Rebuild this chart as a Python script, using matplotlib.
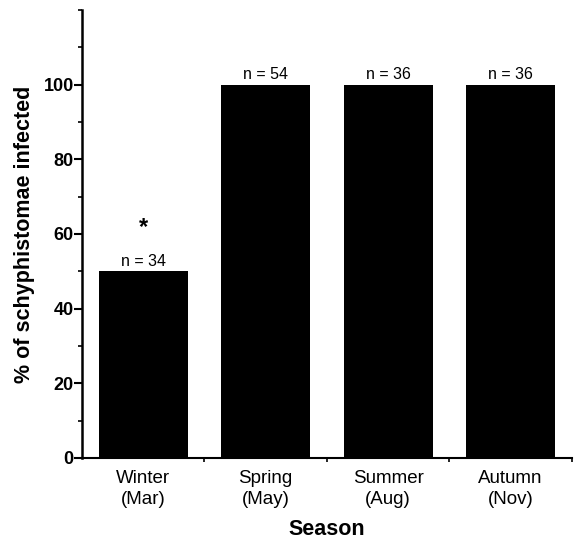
import numpy as np
import matplotlib.pyplot as plt

plt.rcParams['font.family'] = ['Liberation Sans', 'DejaVu Sans']

# Daten
musim = ['Winter\n(Mar)', 'Spring\n(May)', 'Summer\n(Aug)', 'Autumn\n(Nov)']
persen_terinfeksi = [50, 100, 100, 100]
jumlah_sampel = [34, 54, 36, 36]

fig = plt.figure(figsize=(5.75, 5.4), dpi=100)
ax = fig.add_axes([0.1426, 0.152, 0.852, 0.8296])

x = np.arange(len(musim))
ax.bar(x, persen_terinfeksi, width=0.725, color='black')

for xi, nilai, n in zip(x, persen_terinfeksi, jumlah_sampel):
    ax.text(xi, nilai + 1.4, f'n = {n}', ha='center', va='baseline', fontsize=11.5)

# tanda signifikan
ax.text(x[0], 60, '*', ha='center', va='baseline', fontsize=17, fontweight='bold')

ax.set_xlim(-0.5, 3.5)
ax.set_ylim(0, 120)
ax.set_xticks(x + 0.5)
ax.set_xticklabels([])
ax.set_xticks(x, minor=True)
ax.set_xticklabels(musim, minor=True, fontsize=13.5, linespacing=1.25)
ax.tick_params(axis='x', which='minor', length=0, pad=9)
ax.tick_params(axis='x', which='major', length=3, width=1.2, direction='out')

ax.set_yticks([0, 20, 40, 60, 80, 100])
ax.set_yticks(np.arange(10, 121, 10), minor=True)
ax.tick_params(axis='y', which='major', length=6, width=1.5, labelsize=13, pad=0)
ax.tick_params(axis='y', which='minor', length=3, width=1.2)
for lbl in ax.get_yticklabels():
    lbl.set_fontweight('bold')

ax.spines['top'].set_visible(False)
ax.spines['right'].set_visible(False)
ax.spines['left'].set_linewidth(1.8)
ax.spines['bottom'].set_linewidth(1.5)

ax.set_ylabel('% of schyphistomae infected', fontsize=15.5, fontweight='bold', labelpad=6)
ax.set_xlabel('Season', fontsize=15.5, fontweight='bold', labelpad=8)

fig.savefig('out.png', dpi=100)
